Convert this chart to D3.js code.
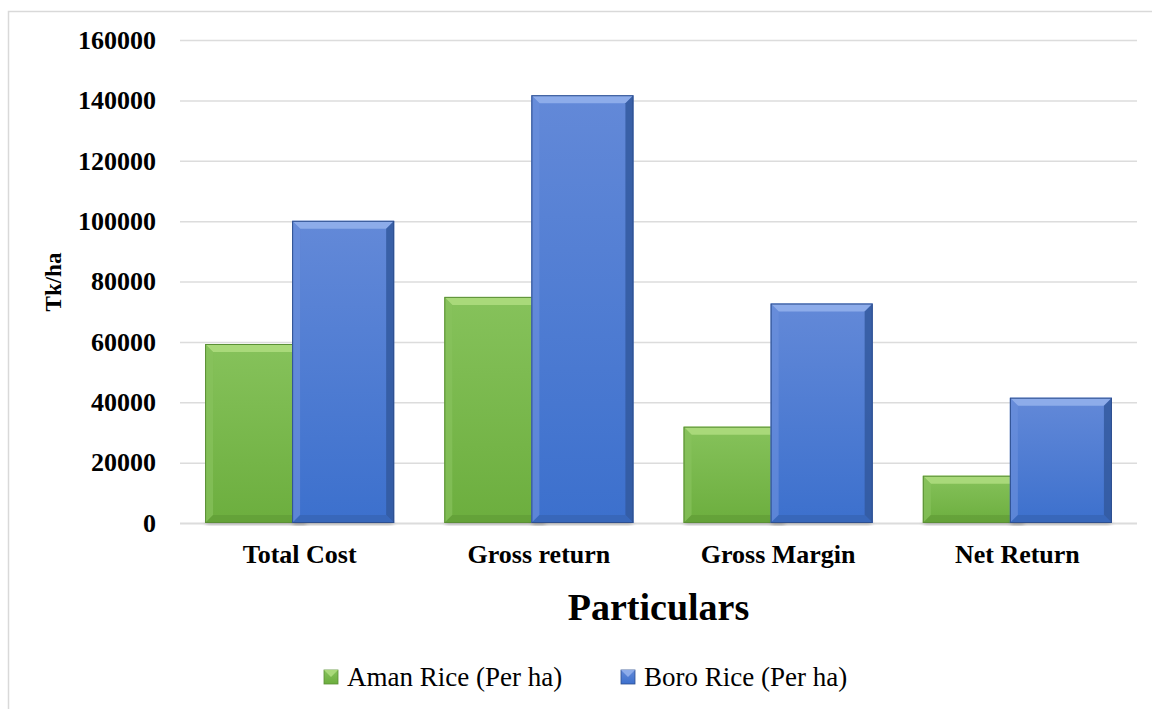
<!DOCTYPE html>
<html>
<head>
<meta charset="utf-8">
<script src="https://cdn.jsdelivr.net/npm/d3@7/dist/d3.min.js"></script>
<style>
  html, body { margin: 0; padding: 0; background: #ffffff; }
  svg { display: block; }
  text { font-family: "Liberation Serif", "Times New Roman", serif; fill: #000; }
</style>
</head>
<body>
<svg id="chart" width="1152" height="709"></svg>
<script>
// Cost and return per hectare for the two rice seasons
const categories = ["Total Cost", "Gross return", "Gross Margin", "Net Return"];
const amanValues = [59300, 74900, 31900, 15650];
const boroValues = [100100, 141700, 72700, 41500];
const seriesNames = ["Aman Rice (Per ha)", "Boro Rice (Per ha)"];
const yTicks = [0, 20000, 40000, 60000, 80000, 100000, 120000, 140000, 160000];

const W = 1152, H = 709;
const plot = { left: 180, right: 1137, top: 40, bottom: 523 };

const svg = d3.select("#chart");
const defs = svg.append("defs");

// Chart area frame
svg.append("path")
  .attr("d", `M8.5,${H} L8.5,11.5 L${W},11.5`)
  .attr("fill", "none").attr("stroke", "#d9d9d9").attr("stroke-width", 1.5);

const y = d3.scaleLinear().domain([0, 160000]).range([plot.bottom, plot.top]);
const x0 = d3.scaleBand().domain(categories).range([plot.left, plot.right]).padding(0);

// Gridlines and value labels
const yAxis = d3.axisLeft(y)
  .tickValues(yTicks)
  .tickFormat(d3.format("d"))
  .tickSize(-(plot.right - plot.left))
  .tickPadding(24);

const gy = svg.append("g")
  .attr("transform", `translate(${plot.left},0)`)
  .call(yAxis);
gy.select(".domain").remove();
gy.selectAll(".tick line")
  .attr("stroke", "#dcdcdc")
  .attr("stroke-width", d => d === 0 ? 2 : 1.5);
gy.selectAll(".tick text")
  .attr("font-family", "Liberation Serif")
  .attr("font-size", 26)
  .attr("font-weight", "bold")
  .attr("fill", "#000");

// Bar geometry within each category band
const bw = x0.bandwidth();
const barW = bw * 0.4265;
const overlap = barW * 0.147;
const groupW = barW * 2 - overlap;

const palettes = [
  { // Aman
    top: "#a9d97a", left: "#88c25c", right: "#5f9c34", bottom: "#5f9a36",
    g0: "#86c25b", g1: "#6cae3e", stroke: "#5b8f36"
  },
  { // Boro
    top: "#8dacea", left: "#6a8fdc", right: "#33599f", bottom: "#3560ad",
    g0: "#6389d8", g1: "#3c70cd", stroke: "#2e4f8f"
  }
];

palettes.forEach((p, i) => {
  const lg = defs.append("linearGradient")
    .attr("id", "body" + i).attr("x1", 0).attr("y1", 0).attr("x2", 0).attr("y2", 1);
  lg.append("stop").attr("offset", "0%").attr("stop-color", p.g0);
  lg.append("stop").attr("offset", "100%").attr("stop-color", p.g1);
});

const shadow = defs.append("filter").attr("id", "soft")
  .attr("x", "-10%").attr("y", "-10%").attr("width", "120%").attr("height", "120%");
shadow.append("feGaussianBlur").attr("stdDeviation", 2);

function bevelBar(g, x, yTop, w, h, p, idx) {
  const b = Math.min(8, h / 2);
  const x1 = x + w, y1 = yTop + h;
  g.append("rect")
    .attr("x", x + 1).attr("y", y1 - 2).attr("width", w - 2).attr("height", 4)
    .attr("fill", "rgba(0,0,0,0.25)").attr("filter", "url(#soft)");
  g.append("rect")
    .attr("x", x).attr("y", yTop).attr("width", w).attr("height", h)
    .attr("fill", `url(#body${idx})`);
  g.append("polygon")
    .attr("points", [[x, yTop], [x1, yTop], [x1 - b, yTop + b], [x + b, yTop + b]].join(" "))
    .attr("fill", p.top);
  g.append("polygon")
    .attr("points", [[x, yTop], [x + b, yTop + b], [x + b, y1 - b], [x, y1]].join(" "))
    .attr("fill", p.left).attr("opacity", 0.7);
  g.append("polygon")
    .attr("points", [[x1, yTop], [x1 - b, yTop + b], [x1 - b, y1 - b], [x1, y1]].join(" "))
    .attr("fill", p.right).attr("opacity", 0.85);
  g.append("polygon")
    .attr("points", [[x, y1], [x + b, y1 - b], [x1 - b, y1 - b], [x1, y1]].join(" "))
    .attr("fill", p.bottom).attr("opacity", 0.6);
  g.append("rect")
    .attr("x", x + 0.5).attr("y", yTop + 0.5).attr("width", w - 1).attr("height", h - 1)
    .attr("fill", "none").attr("stroke", p.stroke).attr("stroke-width", 1);
}

const bars = svg.append("g");
categories.forEach((c, ci) => {
  const gx = x0(c) + (bw - groupW) / 2;
  [amanValues[ci], boroValues[ci]].forEach((v, si) => {
    const bx = gx + si * (barW - overlap);
    bevelBar(bars, bx, y(v), barW, y(0) - y(v), palettes[si], si);
  });
});

// Category labels
const xAxis = d3.axisBottom(x0).tickSize(0).tickPadding(0);
const gx = svg.append("g")
  .attr("transform", `translate(0,${plot.bottom})`)
  .call(xAxis);
gx.select(".domain").remove();
gx.selectAll(".tick text")
  .attr("y", 40).attr("dy", 0)
  .attr("font-family", "Liberation Serif")
  .attr("font-size", 26)
  .attr("font-weight", "bold")
  .attr("fill", "#000");

// Axis titles
svg.append("text")
  .attr("x", (plot.left + plot.right) / 2).attr("y", 620)
  .attr("text-anchor", "middle")
  .attr("font-size", 38).attr("font-weight", "bold")
  .text("Particulars");

svg.append("text")
  .attr("transform", "translate(61,282) rotate(-90)")
  .attr("text-anchor", "middle")
  .attr("font-size", 23).attr("font-weight", "bold")
  .text("Tk/ha");

// Legend
const legendItems = [
  { name: seriesNames[0], x: 324, idx: 0 },
  { name: seriesNames[1], x: 621, idx: 1 }
];
const lg = svg.append("g");
legendItems.forEach(it => {
  const p = palettes[it.idx];
  const s = 14, ly = 670;
  lg.append("rect").attr("x", it.x).attr("y", ly).attr("width", s).attr("height", s)
    .attr("fill", `url(#body${it.idx})`).attr("stroke", p.stroke).attr("stroke-width", 0.8);
  lg.append("polygon")
    .attr("points", [[it.x, ly], [it.x + s, ly], [it.x + s / 2, ly + s / 2]].join(" "))
    .attr("fill", p.top);
  lg.append("text")
    .attr("x", it.x + s + 9).attr("y", 686)
    .attr("font-size", 27)
    .text(it.name);
});
</script>
</body>
</html>
